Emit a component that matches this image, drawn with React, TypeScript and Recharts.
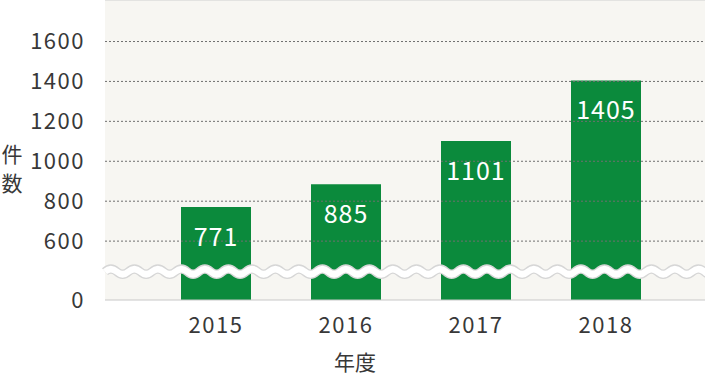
import React from "react";
import { BarChart, Bar, XAxis, YAxis, CartesianGrid, ReferenceLine, LabelList, Label } from "recharts";

const years = ["2015", "2016", "2017", "2018"];
const counts = [771, 885, 1101, 1405];
const gridTicks = [600, 800, 1000, 1200, 1400, 1600];

// the axis is broken: the bottom of the domain stands for 0
const AXIS_FLOOR = 305;
const AXIS_TOP = 1808;
const BREAK_AT = 447;

const data = years.map((year, i) => ({ year, count: counts[i] }));

const FONT = "'Noto Sans CJK JP', 'Noto Sans', sans-serif";
const TEXT = "#383838";
const GREEN = "#0b8a3c";

const wavePath = (x1: number, x2: number, y: number) => {
  const period = 23.5;
  const amp = 2.6;
  let d = `M${x1},${y}`;
  let x = x1;
  let up = true;
  while (x < x2) {
    const half = period / 2;
    d += ` Q${x + half / 2},${y + (up ? -amp * 2 : amp * 2)} ${x + half},${y}`;
    x += half;
    up = !up;
  }
  return d;
};

const BreakWave = (props: any) => {
  const { x1, x2, y1 } = props;
  const d = wavePath(x1, x2, y1);
  return (
    <g>
      <path d={d} fill="none" stroke="#d6d6d6" strokeWidth={9} />
      <path d={d} fill="none" stroke="#ffffff" strokeWidth={6.5} />
    </g>
  );
};

const YTitle = () => {
  return (
    <text x={12} y={155} fill={TEXT} fontSize={21} fontFamily={FONT} textAnchor="middle">
      <tspan x={12} dy="0.35em">件</tspan>
      <tspan x={12} dy="1.35em">数</tspan>
    </text>
  );
};

export default function App() {
  return (
    <div style={{ width: 705, height: 376 }}>
      <style>{`body{margin:0}`}</style>
      <BarChart width={705} height={376} data={data} margin={{ top: 0, right: 0, bottom: 0, left: 0 }}>
        <CartesianGrid horizontal={false} vertical={false} fill="#f7f6f2" />
        <XAxis
          dataKey="year"
          height={76}
          padding={{ left: 46, right: 34 }}
          tickLine={false}
          tickSize={0}
          tickMargin={17}
          axisLine={{ stroke: "#c8c8c8" }}
          tick={{ fill: TEXT, fontSize: 22, fontFamily: FONT, letterSpacing: 1.5 }}
        >
          <Label value="年度" position="insideBottom" offset={6} dx={-50} fill={TEXT} fontSize={21} fontFamily={FONT} />
        </XAxis>
        <YAxis
          width={105}
          type="number"
          domain={[AXIS_FLOOR, AXIS_TOP]}
          allowDataOverflow
          ticks={[AXIS_FLOOR, ...gridTicks]}
          tickFormatter={(v: number) => (v === AXIS_FLOOR ? "0" : String(v))}
          interval={0}
          tickLine={false}
          tickSize={0}
          tickMargin={20}
          axisLine={false}
          tick={{ fill: TEXT, fontSize: 22, fontFamily: FONT, letterSpacing: 1.5 }}
        >
          <Label content={<YTitle />} />
        </YAxis>
        <Bar dataKey="count" fill={GREEN} barSize={70} isAnimationActive={false}>
          <LabelList
            dataKey="count"
            position="insideTop"
            offset={21}
            fill="#ffffff"
            fontSize={25}
            fontFamily={FONT}
            letterSpacing={1}
          />
        </Bar>
        {gridTicks.map((t) => (
          <ReferenceLine key={t} y={t} stroke="#6f6f6f" strokeDasharray="2 2" strokeWidth={1} />
        ))}
        <ReferenceLine y={AXIS_TOP} stroke="#d0d0d0" />
        <ReferenceLine y={BREAK_AT} shape={<BreakWave />} />
      </BarChart>
    </div>
  );
}
